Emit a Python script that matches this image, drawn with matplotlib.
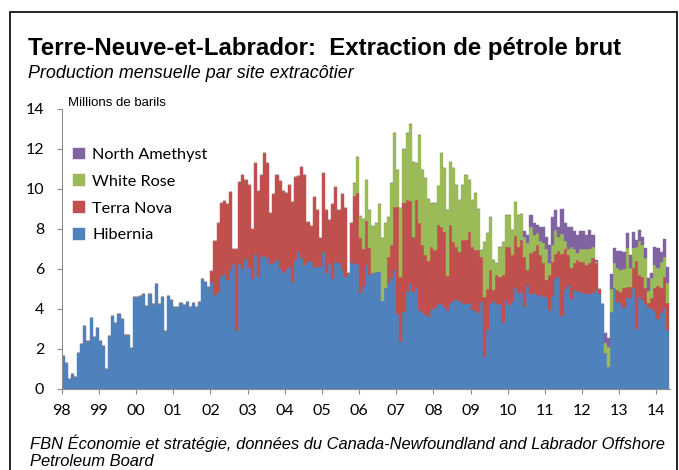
import numpy as np
import pandas as pd
from matplotlib import pyplot as plt
from matplotlib.patches import Rectangle

# production mensuelle, millions de barils
hibernia = [
  1.65, 1.3, 0.5, 0.75, 0.6, 1.8, 2.25, 3.15, 2.4, 3.55, 2.6, 3.05,
  2.4, 2.15, 1.0, 2.65, 3.65, 3.3, 3.75, 3.5, 2.7, 2.7, 2.05, 4.6,
  4.6, 4.65, 4.75, 4.15, 4.75, 4.25, 5.25, 4.25, 4.6, 2.9, 4.65, 4.45,
  4.1, 4.1, 4.3, 4.2, 4.35, 4.1, 4.3, 4.1, 4.35, 5.5, 5.35, 5.1,
  5.35, 4.7, 4.85, 5.65, 5.75, 5.45, 5.95, 6.25, 2.9, 6.25, 6.0, 6.5,
  6.05, 5.5, 6.75, 5.6, 6.6, 6.65, 6.55, 6.25, 6.3, 6.45, 6.0, 5.8,
  6.0, 6.1, 5.35, 6.45, 6.9, 6.55, 6.2, 6.35, 6.4, 6.1, 6.1, 6.1,
  6.85, 5.8, 6.25, 5.5, 6.35, 6.3, 5.95, 5.6, 5.75, 6.35, 6.25, 6.25,
  4.8, 5.15, 6.2, 5.7, 5.8, 5.85, 5.85, 4.4, 5.05, 5.3, 5.55, 5.95,
  3.75, 2.35, 3.85, 4.9, 5.3, 4.85, 5.05, 3.95, 3.85, 3.7, 3.6, 3.95,
  4.05, 4.25, 4.25, 4.1, 3.95, 4.3, 4.4, 4.5, 4.4, 4.3, 4.25, 4.3,
  3.95, 3.9, 3.8, 4.35, 1.6, 2.95, 4.25, 4.4, 4.25, 4.25, 3.3, 4.45,
  4.2, 4.35, 5.05, 4.75, 4.85, 4.1, 5.2, 4.75, 4.8, 4.7, 4.7, 4.6,
  4.6, 3.95, 4.65, 5.55, 5.6, 3.65, 5.0, 5.2, 4.5, 4.95, 4.9, 4.85,
  4.8, 4.75, 4.75, 4.8, 4.95, 4.75, 4.25, 1.8, 1.1, 3.85, 5.05, 4.35,
  4.3, 4.05, 4.55, 4.55, 5.05, 3.0, 4.6, 4.45, 4.25, 4.05, 4.05, 3.9,
  3.5, 3.8, 4.05, 2.95]

# depuis janvier 2002
terra_nova = [
  0.55, 2.7, 3.45, 3.65, 3.65, 3.8, 3.9, 0.75, 4.1, 4.1, 4.7, 3.95,
  4.15, 2.5, 4.55, 4.3, 4.1, 5.15, 4.75, 2.55, 3.45, 4.25, 4.4, 4.1,
  3.8, 4.1, 4.0, 4.15, 3.75, 4.55, 4.5, 2.0, 1.75, 3.5, 2.85, 1.45,
  3.95, 3.15, 2.2, 3.75, 3.75, 2.65, 3.8, 3.45, 0.05, 1.95, 3.4, 3.55,
  2.75, 1.85, 2.2, 1.35, 0, 0, 0, 0, 0, 1.3, 1.65, 3.15,
  5.35, 3.25, 5.45, 4.55, 4.1, 2.75, 4.4, 4.35, 3.35, 3.0, 2.8, 3.15,
  2.9, 3.95, 3.85, 3.75, 1.7, 3.9, 2.95, 2.6, 2.45, 3.15, 3.2, 3.55,
  3.15, 3.05, 3.15, 2.25, 3.0, 2.05, 1.7, 0.55, 1.45, 1.35, 2.4, 2.65,
  2.9, 2.35, 2.6, 2.35, 2.6, 2.5, 0.75, 2.05, 2.1, 2.5, 2.0, 1.7,
  0.85, 1.75, 1.7, 1.2, 1.3, 3.1, 2.0, 1.5, 1.55, 1.35, 1.55, 1.5,
  1.55, 1.45, 1.55, 1.75, 1.35, 0.25, 0, 0, 0, 0, 0, 0.6,
  0.55, 1.0, 0.55, 0.55, 1.0, 3.4, 1.1, 1.15, 0.8, 0.25, 0.5, 1.15,
  1.65, 1.25, 1.55, 1.35]

# depuis novembre 2005
white_rose = [
  0.65, 1.8,
  1.1, 1.5, 2.05, 1.9, 2.35, 2.45, 3.4, 3.15, 3.25, 2.0, 3.1, 3.7,
  1.85, 3.45, 2.7, 3.35, 3.85, 3.75, 1.85, 4.4, 3.75, 3.85, 3.1, 2.2,
  2.35, 1.95, 3.7, 3.2, 3.3, 3.15, 3.7, 3.1, 2.6, 2.75, 3.25, 2.6,
  2.35, 2.85, 2.05, 0.35, 2.75, 2.8, 2.65, 1.5, 0.6, 1.5, 1.65, 1.6,
  1.6, 1.25, 1.7, 1.6, 1.3, 1.0, 1.35, 1.3, 0.8, 0.6, 0.7, 1.0,
  1.55, 0.6, 0.85, 1.2, 0.7, 1.0, 0.4, 0.3, 1.05, 0.7, 0.35, 0.65,
  0.65, 0.8, 0.7, 0.55, 0.05, 0, 0, 0.5, 1.0, 1.15, 1.25, 1.1,
  1.1, 0.95, 1.95, 0.95, 1.0, 0.7, 1.7, 1.6, 1.5, 0.6, 1.0, 1.15,
  0.9, 1.3, 1.0, 1.0]

# depuis juin 2010
north_amethyst = [
  0.3, 0.4, 0.6, 0.6, 0.4, 0.7, 0.8,
  0.6, 0.9, 1.4, 1.0, 0.5, 1.25, 0.9, 1.1, 1.0, 0.9, 0.9, 0.9,
  0.9, 0.7, 0.95, 0.6, 0.1, 0, 0, 0.5, 0.45, 0.75, 0.75, 0.85,
  0.95, 0.85, 0.75, 0.65, 0.8, 0.35, 0.55, 0.4, 0.5, 0.65, 0.25, 0.9,
  1.0, 0.5, 0.9, 0.8]

sites = ['Hibernia', 'Terra Nova', 'White Rose', 'North Amethyst']
series = [hibernia, terra_nova, white_rose, north_amethyst]
starts = ['1998-01', '2002-01', '2005-11', '2010-06']
colors = ['#4F81BD', '#C0504D', '#9BBB59', '#8064A2']
years = list(range(1998, 2015))
year_labels = ['%02d' % (y % 100) for y in years]

months = pd.period_range('1998-01', '2014-04', freq='M')
df = pd.DataFrame(index=months)
for name, vals, start in zip(sites, series, starts):
  idx = pd.period_range(start, periods=len(vals), freq='M')
  df[name] = pd.Series(vals, index=idx)
df = df.fillna(0)
x = df.index.year + (df.index.month - 1) / 12.0

fig = plt.figure(figsize=(6.79, 4.70), dpi=100)
ax = fig.add_axes([61.7/679, 1-389/470, (669.5-61.7)/679, 280/470])

bottom = np.zeros(len(df))
handles = []
for name, c in zip(sites, colors):
  b = ax.bar(x, df[name].values, width=1/12.0, bottom=bottom, align='edge',
             color=c, edgecolor=c, linewidth=0.3, label=name)
  handles.append(b)
  bottom = bottom + df[name].values

ax.set_xlim(1998, 2014.35)
ax.set_ylim(0, 14)
ax.set_yticks(range(0, 15, 2))
ax.set_xticks(years)
ax.set_xticklabels(year_labels)
for s in ['top', 'right']:
  ax.spines[s].set_visible(False)
for s in ['left', 'bottom']:
  ax.spines[s].set_color('#8c8c8c')
  ax.spines[s].set_linewidth(0.8)
ax.tick_params(axis='both', colors='#8c8c8c', labelcolor='black', width=0.8)
ax.tick_params(axis='y', length=3.6, pad=9, labelsize=11.5)
ax.tick_params(axis='x', length=3.6, pad=7, labelsize=11.5)
for lab in ax.get_xticklabels() + ax.get_yticklabels():
  lab.set_family(['Lato', 'DejaVu Sans'])

leg = ax.legend(handles[::-1], sites[::-1], loc='upper left',
                bbox_to_anchor=(0.0, 0.903), frameon=False,
                handlelength=0.72, handleheight=0.72, handletextpad=0.45,
                labelspacing=0.76, borderaxespad=0.3,
                prop={'family': ['Lato', 'DejaVu Sans'], 'size': 11.7})

fig.text(68/679, 1-103/470, 'Millions de barils', fontsize=9.5, va='center',
         family=['Liberation Sans Narrow', 'Liberation Sans'])
fig.text(28/679, 1-48/470, 'Terre-Neuve-et-Labrador:  Extraction de pétrole brut',
         fontsize=17.3, fontweight='bold', va='center', family='Liberation Sans')
fig.text(28/679, 1-73/470, 'Production mensuelle par site extracôtier',
         fontsize=12.9, style='italic', va='center', family='Liberation Sans')
fig.text(30/679, 1-443/470,
         'FBN Économie et stratégie, données du Canada-Newfoundland and Labrador Offshore',
         fontsize=11.85, style='italic', va='center', family='Liberation Sans')
fig.text(30/679, 1-461/470, 'Petroleum Board', fontsize=11.85, style='italic',
         va='center', family='Liberation Sans')

fig.patches.append(Rectangle((10/679, -0.02), (677-10)/679, 1-12.5/470+0.02,
                             transform=fig.transFigure, fill=False,
                             edgecolor='black', linewidth=1.2))

fig.savefig('out.png', dpi=100)
